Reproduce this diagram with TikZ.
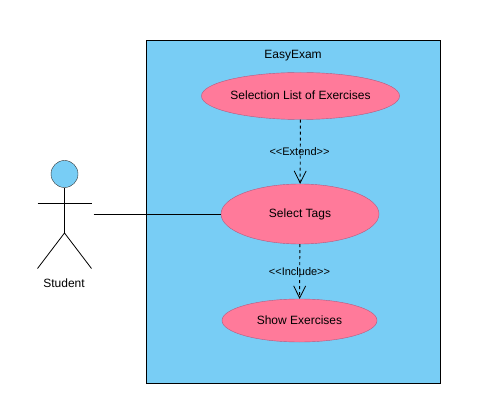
\documentclass[tikz,border=0pt]{standalone}
\usepackage{fontspec}
\setmainfont{Liberation Sans}
\usepackage{tikz}
\usetikzlibrary{shapes.geometric, arrows.meta}
\definecolor{skyfill}{HTML}{78CDF5}
\definecolor{rosefill}{HTML}{FF7A9A}
\definecolor{roseline}{HTML}{B45A80}
\tikzset{
    usecase/.style={draw=roseline, ellipse, fill=rosefill, inner sep=0pt, text height=8.6pt, text depth=0.6pt, font=\fontsize{12}{14}\selectfont},
    relation/.style={font=\fontsize{11}{13}\selectfont},
    dep/.style={dashed, dash pattern=on 3pt off 3pt, line width=0.9pt, -{Straight Barb[length=12pt, width=12pt, line width=0.8pt]}, shorten >=0pt},
    limb/.style={line width=0.8pt}
}

\begin{document}
\begin{tikzpicture}[x=1pt, y=-1pt]
\useasboundingbox (0,0) rectangle (494,411);
\node[draw, line width=0.9pt, fill=skyfill, minimum width=294pt, minimum height=343pt, inner sep=0pt] (sys) at (293.5,211.5) {};
\node[font=\fontsize{12}{14}\selectfont] (title) at (293,55.5) {EasyExam};
\node[usecase, minimum width=195pt, minimum height=47pt] (sel) at (300.5,96) {Selection List of Exercises};
\node[usecase, minimum width=158pt, minimum height=60pt] (tags) at (300,214) {Select Tags};
\node[usecase, minimum width=155pt, minimum height=43pt] (show) at (299.5,320.5) {Show Exercises};
% actor
\node[draw=black!80, circle, fill=skyfill, minimum size=27pt, inner sep=0pt] (head) at (64.5,174) {};
\coordinate (hip) at (64.5,233);
\coordinate (armL) at (37.5,203);
\coordinate (armR) at (91.5,203);
\coordinate (footL) at (37.5,268.5);
\coordinate (footR) at (91.5,268.5);
\coordinate (hand) at (93.5,214);
\node[font=\fontsize{12}{14}\selectfont] (student) at (64,283) {Student};
\draw[limb] (head) -- (hip);
\draw[limb] (armL) -- (armR);
\draw[limb] (footL) -- (hip) -- (footR);
\draw[limb] (hand) -- (tags);
\draw[dep] (sel) -- (tags);
\draw[dep] (tags) -- (show);
\node[relation] (extend) at (299.5,151.5) {<{}<Extend>{}>};
\node[relation] (include) at (299.5,272) {<{}<Include>{}>};
\end{tikzpicture}
\end{document}
